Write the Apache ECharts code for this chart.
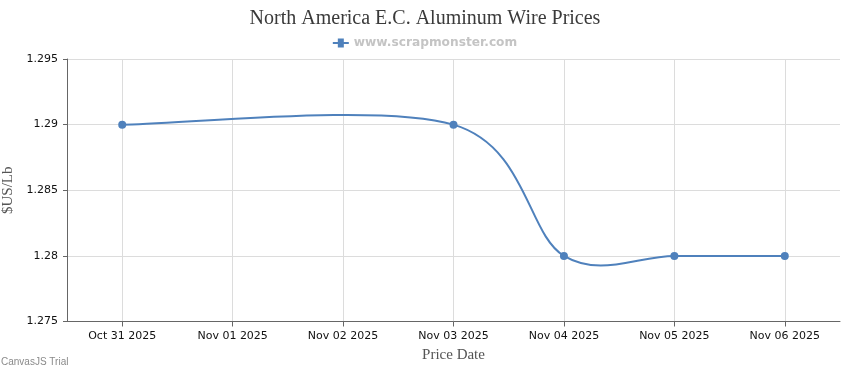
<!DOCTYPE html>
<html><head><meta charset="utf-8">
<script src="https://cdn.jsdelivr.net/npm/echarts@6/dist/echarts.min.js"></script>
<style>html,body{margin:0;padding:0;background:#fff}#c{width:850px;height:370px}</style>
</head><body><div id="c"></div>
<script>
var tickLabels = ['Oct 31 2025','Nov 01 2025','Nov 02 2025','Nov 03 2025','Nov 04 2025','Nov 05 2025','Nov 06 2025'];
var pointDates = ['Oct 31 2025','Nov 03 2025','Nov 04 2025','Nov 05 2025','Nov 06 2025'];
var pointValues = [1.29, 1.29, 1.28, 1.28, 1.28];
var yTicks = [1.275, 1.28, 1.285, 1.29, 1.295];
var seriesName = 'www.scrapmonster.com';

var tickIdx = tickLabels.map(function(_, i){ return i; });
var data = pointDates.map(function(d, i){ return [tickLabels.indexOf(d), pointValues[i]]; });
var lineColor = '#4f81bc';

// spline segment (Catmull-Rom style, as the source chart draws it) between pixel points from the axes
function renderSegment(params, api) {
  var i = params.dataIndex;
  if (i === 0) return null;
  var n = data.length;
  var p = data.map(function(d){ return api.coord(d); });
  var a = i - 1, b = i;
  var a1 = a === 0 ? 0 : a - 1, a2 = a === n - 1 ? a : a + 1;
  var b1 = b === 0 ? 0 : b - 1, b2 = b === n - 1 ? b : b + 1;
  var cp1 = [p[a][0] + (p[a2][0] - p[a1][0]) / 6, p[a][1] + (p[a2][1] - p[a1][1]) / 6];
  var cp2 = [p[b][0] - (p[b2][0] - p[b1][0]) / 6, p[b][1] - (p[b2][1] - p[b1][1]) / 6];
  return {
    type: 'bezierCurve',
    shape: {x1: p[a][0], y1: p[a][1], cpx1: cp1[0], cpy1: cp1[1], cpx2: cp2[0], cpy2: cp2[1], x2: p[b][0], y2: p[b][1]},
    style: {stroke: lineColor, lineWidth: 2, fill: 'none'}
  };
}

var chart = echarts.init(document.getElementById('c'), null, {renderer:'canvas'});
chart.setOption({
  animation: false,
  backgroundColor: '#fff',
  title: {
    text: 'North America E.C. Aluminum Wire Prices',
    left: 'center', top: 4,
    textStyle: {fontFamily: 'Liberation Serif', fontSize: 20, fontWeight: 'normal', color: '#3a3a3a'}
  },
  legend: {
    data: [{name: seriesName, icon: 'path://M0,3.5h5v-3.5h6v3.5h5v2h-5v3.5h-6v-3.5h-5z'}],
    top: 32, left: 'center',
    itemWidth: 16, itemHeight: 9, itemGap: 5,
    textStyle: {fontFamily: 'DejaVu Sans', fontSize: 12.2, fontWeight: 'bold', color: '#c4c4c4'}
  },
  grid: {left: 67, right: 10, top: 59, bottom: 48.5, containLabel: false, outerBoundsMode: 'none'},
  xAxis: {
    type: 'value', min: -0.5, max: 6.5,
    name: 'Price Date', nameLocation: 'middle', nameGap: 26,
    nameTextStyle: {fontFamily: 'Liberation Serif', fontSize: 15, color: '#555'},
    axisLine: {show: true, onZero: false, lineStyle: {color: '#666', width: 1}},
    axisTick: {show: true, length: 5, lineStyle: {color: '#666'}, customValues: tickIdx},
    axisLabel: {customValues: tickIdx, fontFamily: 'DejaVu Sans', fontSize: 11, color: '#111', margin: 9,
      formatter: function(v){ return tickLabels[Math.round(v)] || ''; }},
    splitLine: {show: true, lineStyle: {color: '#dcdcdc', width: 1}}
  },
  yAxis: {
    type: 'value', min: yTicks[0], max: yTicks[yTicks.length-1], interval: 0.005,
    name: '$US/Lb', nameLocation: 'middle', nameGap: 48, nameRotate: 90,
    nameTextStyle: {fontFamily: 'Liberation Serif', fontSize: 15, color: '#555'},
    axisLine: {show: true, onZero: false, lineStyle: {color: '#666', width: 1}},
    axisTick: {show: true, length: 4, lineStyle: {color: '#666'}},
    axisLabel: {fontFamily: 'DejaVu Sans', fontSize: 11, color: '#111', margin: 9},
    splitLine: {show: true, lineStyle: {color: '#dcdcdc', width: 1}}
  },
  graphic: [{
    type: 'text', left: 1, top: 357,
    style: {text: 'CanvasJS Trial', font: '10px "Liberation Sans"', fill: '#8a8a8a'}
  }],
  series: [{
    name: seriesName, type: 'custom', data: data,
    renderItem: renderSegment, z: 2,
    itemStyle: {color: lineColor}
  }, {
    name: seriesName, type: 'line', data: data,
    symbol: 'circle', symbolSize: 8, showSymbol: true, z: 3,
    lineStyle: {color: lineColor, width: 0, opacity: 0},
    itemStyle: {color: lineColor}
  }]
});
</script></body></html>
